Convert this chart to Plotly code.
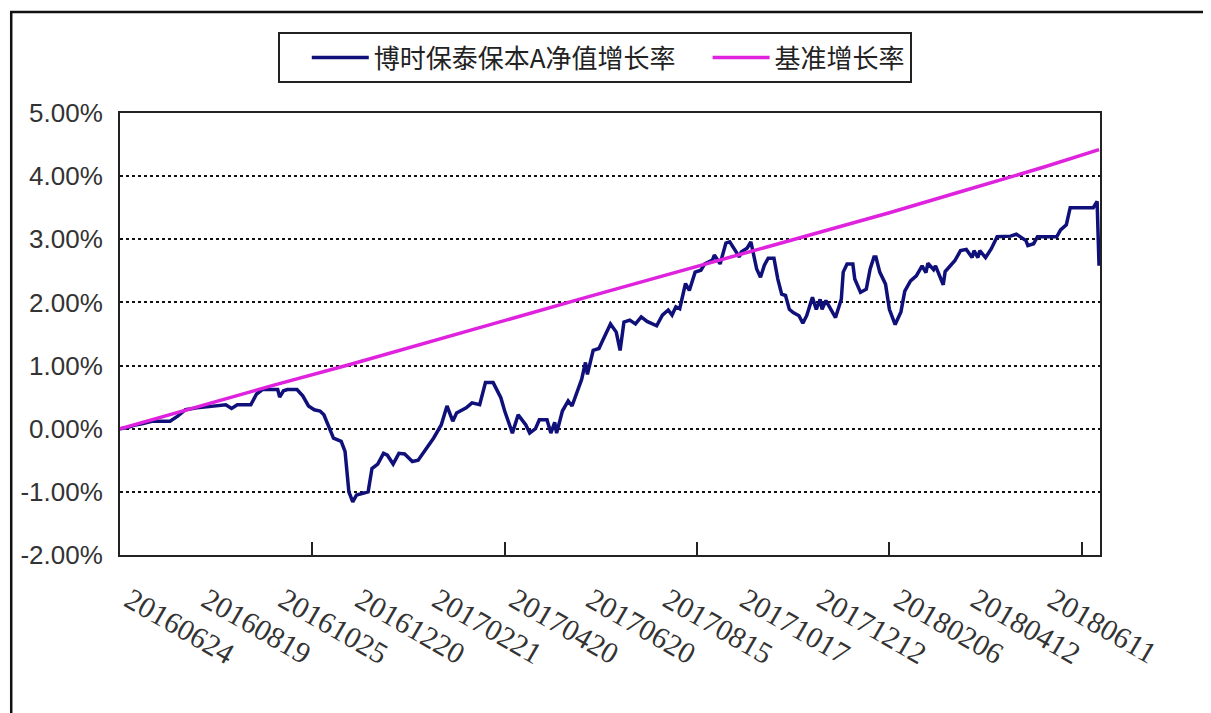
import plotly.graph_objects as go

# trading-day index of each reading, and the cumulative return in %
fund_idx = [0, 4, 8, 12, 17, 26, 30, 34, 40, 48, 55, 58, 61, 68, 71, 74, 82, 83, 85, 87,
            92, 95, 98, 101, 104, 106, 108, 111, 115, 117, 119, 121, 123, 126, 129, 131, 134, 137, 139, 142,
            145, 148, 152, 155, 157, 160, 163, 167, 170, 173, 175, 180, 183, 187, 190, 194, 198, 200, 204, 207,
            211, 213, 216, 218, 222, 224, 226, 227, 230, 233, 235, 238, 240, 242, 243, 246, 249, 251, 255, 258,
            260, 262, 265, 268, 271, 274, 277, 279, 282, 285, 287, 289, 291, 294, 296, 299, 302, 304, 308, 309,
            312, 315, 317, 319, 322, 323, 326, 328, 330, 331, 333, 335, 337, 340, 342, 344, 346, 348, 350, 353,
            355, 357, 360, 362, 364, 365, 367, 369, 372, 375, 376, 378, 381, 382, 385, 388, 390, 392, 393, 395,
            398, 400, 403, 406, 408, 411, 414, 417, 419, 420, 423, 424, 428, 429, 432, 434, 437, 440, 443, 444,
            446, 447, 450, 453, 456, 463, 466, 468, 471, 472, 475, 477, 487, 489, 492, 494, 506, 508, 509]
fund_ret = [0.00, 0.02, 0.06, 0.08, 0.12, 0.12, 0.20, 0.30, 0.33, 0.36, 0.38, 0.32, 0.38, 0.38, 0.55, 0.62, 0.62, 0.50, 0.60, 0.62,
            0.62, 0.52, 0.36, 0.30, 0.28, 0.22, 0.06, -0.15, -0.20, -0.36, -1.00, -1.16, -1.05, -1.02, -1.00, -0.63, -0.56, -0.39, -0.42, -0.56,
            -0.39, -0.40, -0.52, -0.50, -0.42, -0.28, -0.15, 0.06, 0.36, 0.12, 0.25, 0.33, 0.41, 0.38, 0.73, 0.73, 0.49, 0.28, -0.07, 0.22,
            0.06, -0.07, 0.00, 0.14, 0.14, -0.07, 0.10, -0.07, 0.28, 0.44, 0.36, 0.60, 0.78, 1.05, 0.86, 1.24, 1.27, 1.40, 1.66, 1.53,
            1.24, 1.69, 1.72, 1.66, 1.77, 1.70, 1.66, 1.63, 1.80, 1.88, 1.80, 1.93, 1.90, 2.30, 2.19, 2.48, 2.51, 2.61, 2.67, 2.75,
            2.61, 2.94, 2.96, 2.86, 2.72, 2.80, 2.86, 2.96, 2.64, 2.53, 2.40, 2.59, 2.70, 2.70, 2.37, 2.13, 2.11, 1.89, 1.84, 1.79,
            1.67, 1.79, 2.08, 1.89, 2.05, 1.89, 2.03, 1.92, 1.76, 2.05, 2.48, 2.61, 2.61, 2.37, 2.16, 2.21, 2.53, 2.72, 2.72, 2.48,
            2.29, 1.89, 1.65, 1.85, 2.18, 2.34, 2.42, 2.58, 2.47, 2.62, 2.52, 2.58, 2.28, 2.49, 2.60, 2.66, 2.82, 2.84, 2.71, 2.82,
            2.71, 2.82, 2.71, 2.85, 3.04, 3.05, 3.08, 3.04, 2.98, 2.90, 2.93, 3.04, 3.04, 3.15, 3.23, 3.50, 3.50, 3.60, 2.58]

bench_idx = [0, 40, 80, 120, 160, 200, 240, 280, 320, 360, 400, 440, 480, 509]
bench_ret = [0.00, 0.35, 0.69, 1.02, 1.37, 1.72, 2.06, 2.40, 2.74, 3.08, 3.42, 3.78, 4.14, 4.42]

label_idx = [0, 40, 80, 120, 160, 200, 240, 280, 320, 360, 400, 440, 480]
labels = ["20160624", "20160819", "20161025", "20161220", "20170221", "20170420", "20170620",
          "20170815", "20171017", "20171212", "20180206", "20180412", "20180611"]
tick_marks = [100, 200, 300, 400, 500]
y_ticks = [-2, -1, 0, 1, 2, 3, 4, 5]
y_labels = ["-2.00%", "-1.00%", "0.00%", "1.00%", "2.00%", "3.00%", "4.00%", "5.00%"]

fig = go.Figure()

fig.add_trace(go.Scatter(
    x=fund_idx, y=fund_ret, mode="lines",
    line=dict(color="#10107a", width=3.5),
    name="博时保泰保本A净值增长率"))

fig.add_trace(go.Scatter(
    x=bench_idx, y=bench_ret, mode="lines",
    line=dict(color="#de22de", width=3.5),
    name="基准增长率"))

# outer frame of the original picture (only top and left edges visible)
fig.add_shape(type="rect", xref="paper", yref="paper",
              x0=-0.111, x1=1.3, y0=-0.6, y1=1.2285,
              line=dict(color="#111", width=2.5), layer="below")

# page body adds 8px, so the figure is 8px smaller and margins shifted
fig.update_layout(
    width=1203, height=705,
    margin=dict(l=112, r=111, t=105, b=158),
    paper_bgcolor="white", plot_bgcolor="white",
    showlegend=True,
    legend=dict(
        orientation="h", x=0.161, y=1.183, xanchor="left", yanchor="top",
        bordercolor="#222", borderwidth=2, bgcolor="white",
        font=dict(family="Noto Sans CJK SC", size=26, color="#222"),
        indentation=27, itemwidth=57),
    xaxis=dict(
        range=[0, 509.5], tickmode="array", tickvals=label_idx, ticktext=labels,
        tickangle=30, ticks="", ticklabelstandoff=14, ticklabelshift=10,
        tickfont=dict(family="Liberation Serif", size=30, color="#333"),
        showgrid=False, zeroline=False,
        showline=True, linecolor="#222", linewidth=2, mirror=True,
        minor=dict(tickmode="array", tickvals=tick_marks, ticks="inside",
                   ticklen=13, tickwidth=2, tickcolor="#222", showgrid=False)),
    yaxis=dict(
        range=[-2, 5], tickmode="array", tickvals=y_ticks, ticktext=y_labels,
        ticks="", ticklabelstandoff=10,
        tickfont=dict(family="Liberation Sans", size=26, color="#333"),
        showgrid=True, gridcolor="#111", gridwidth=2, griddash="dot",
        zeroline=False,
        showline=True, linecolor="#222", linewidth=2, mirror=True),
)

fig.write_html("out.html")
